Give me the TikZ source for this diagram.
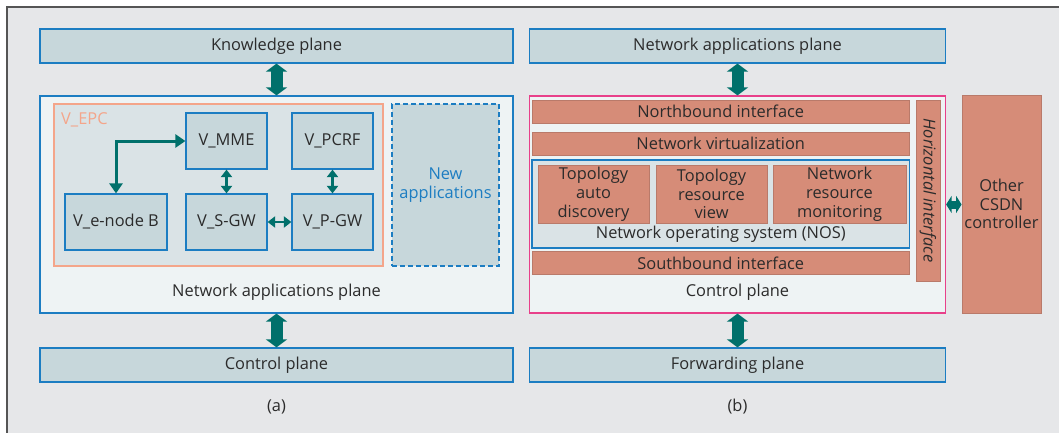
\documentclass[tikz,border=0pt]{standalone}
\usepackage{fontspec}
\setmainfont{Open Sans}
\usetikzlibrary{arrows.meta}
\usepackage{xcolor}

\definecolor{bggray}{HTML}{E6E7E9}
\definecolor{framegray}{HTML}{555555}
\definecolor{lineblue}{HTML}{1C7DC2}
\definecolor{planefill}{HTML}{C7D7DB}
\definecolor{paleblue}{HTML}{EEF3F4}
\definecolor{epcfill}{HTML}{DAE3E6}
\definecolor{salmon}{HTML}{F4A58A}
\definecolor{brick}{HTML}{D68C78}
\definecolor{brickline}{HTML}{B97A6A}
\definecolor{pinkline}{HTML}{E8408A}
\definecolor{tealarrow}{HTML}{00706B}
\definecolor{inkgray}{HTML}{2B2B2B}

\newcommand{\figfont}{\fontsize{16.4}{18.8}\selectfont}

\tikzset{
    plane/.style={draw=lineblue, fill=planefill, line width=1.2pt, inner sep=0pt,
        minimum width=473pt, minimum height=34pt},
    holder/.style={draw=lineblue, fill=paleblue, line width=1.2pt, inner sep=0pt},
    vnf/.style={draw=lineblue, fill=planefill, line width=1.2pt, inner sep=0pt,
        minimum width=81pt, minimum height=56pt},
    iface/.style={draw=brickline, fill=brick, line width=0.8pt, inner sep=0pt,
        minimum width=377.5pt, minimum height=23pt, align=center},
    bigarrow/.style={draw=tealarrow, line width=12pt,
        arrows={Triangle[width=21pt,length=8pt]-Triangle[width=21pt,length=8pt]}},
    sidearrow/.style={draw=tealarrow, line width=8pt,
        arrows={Triangle[width=17pt,length=5.5pt]-Triangle[width=17pt,length=5.5pt]}},
    smallarrow/.style={draw=tealarrow, line width=2.8pt,
        arrows={Triangle[width=11pt,length=7.5pt]-Triangle[width=11pt,length=7.5pt]}},
}

\begin{document}
\begin{tikzpicture}[x=1pt, y=-1pt, font=\figfont, text=inkgray]
    \useasboundingbox (0,0) rectangle (1059,433);
    \fill[white] (0,0) rectangle (1059,433);
    \fill[bggray] (7,7) rectangle (1059,433);
    \draw[framegray, line width=1.5pt] (7,433) -- (7,7) -- (1059,7);

    % (a)
    \node[plane] (know) at (276.5,46) {Knowledge plane};
    \node[holder, minimum width=473pt, minimum height=217pt] (napp) at (276.5,204.5) {};
    \node[draw=salmon, fill=epcfill, line width=1.2pt, minimum width=329pt,
        minimum height=162pt] (epc) at (218.5,185) {};
    \node[anchor=west, text=salmon, inner sep=0pt] (epclbl) at (61,120) {V\_EPC};
    \node[vnf] (mme) at (226.5,141) {V\_MME};
    \node[vnf] (pcrf) at (332.5,141) {V\_PCRF};
    \node[vnf, minimum width=102pt] (enb) at (116,222) {V\_e-node B};
    \node[vnf] (sgw) at (226.5,222) {V\_S-GW};
    \node[vnf] (pgw) at (332.5,222) {V\_P-GW};
    \node[draw=lineblue, dash pattern=on 5pt off 3pt, fill=planefill, line width=1.2pt,
        text=lineblue, align=center, minimum width=107pt, minimum height=162pt] (newapp)
        at (445.5,185) {New\\applications};
    \node (nappl) at (276.5,292) {Network applications plane};
    \node[plane] (ctrl) at (276.5,365) {Control plane};
    \node (lbla) at (276.5,407) {(a)};

    \draw[bigarrow] (know.south) -- (napp.north);
    \draw[bigarrow] (napp.south) -- (ctrl.north);
    \draw[draw=tealarrow, line width=3pt,
        arrows={Triangle[width=13pt,length=10pt]-Triangle[width=13pt,length=10pt]}]
        (mme.west) -| (enb.north);
    \draw[smallarrow] (mme.south) -- (sgw.north);
    \draw[smallarrow] (pcrf.south) -- (pgw.north);
    \draw[smallarrow] (sgw.east) -- (pgw.west);

    % (b)
    \node[plane, minimum width=416pt] (apps) at (737.5,46) {Network applications plane};
    \node[holder, draw=pinkline, minimum width=416pt, minimum height=217pt] (cp) at (737.5,204.5) {};
    \node[iface] (north) at (720.75,111.5) {Northbound interface};
    \node[iface] (virt) at (720.75,143.5) {Network virtualization};
    \node[draw=lineblue, fill=epcfill, line width=1.2pt, minimum width=377.5pt,
        minimum height=88pt] (nos) at (720.75,204) {};
    \node[iface, minimum width=111pt, minimum height=58pt] (tad) at (593.5,194) {Topology\\auto\\discovery};
    \node[iface, minimum width=111pt, minimum height=58pt] (trv) at (711.5,194) {Topology\\resource\\view};
    \node[iface, minimum width=133pt, minimum height=58pt] (nrm) at (839.5,194) {Network\\resource\\monitoring};
    \node (noslbl) at (720.75,234) {Network operating system (NOS)};
    \node[iface] (south) at (720.75,263) {Southbound interface};
    \node[iface, minimum width=24pt, minimum height=181pt] (hif) at (928,190.5) {};
    \node[rotate=-90, font=\figfont\itshape] (hiflbl) at (hif.center) {Horizontal interface};
    \node[iface, minimum width=79pt, minimum height=218pt] (other) at (1001.5,204) {Other\\CSDN\\controller};
    \node (cplbl) at (737.5,292) {Control plane};
    \node[plane, minimum width=416pt] (fwd) at (737.5,365) {Forwarding plane};
    \node (lblb) at (737.5,407) {(b)};

    \draw[bigarrow] (apps.south) -- (cp.north);
    \draw[bigarrow] (cp.south) -- (fwd.north);
    \draw[sidearrow] (cp.east) -- (cp.east -| other.west);
\end{tikzpicture}
\end{document}
